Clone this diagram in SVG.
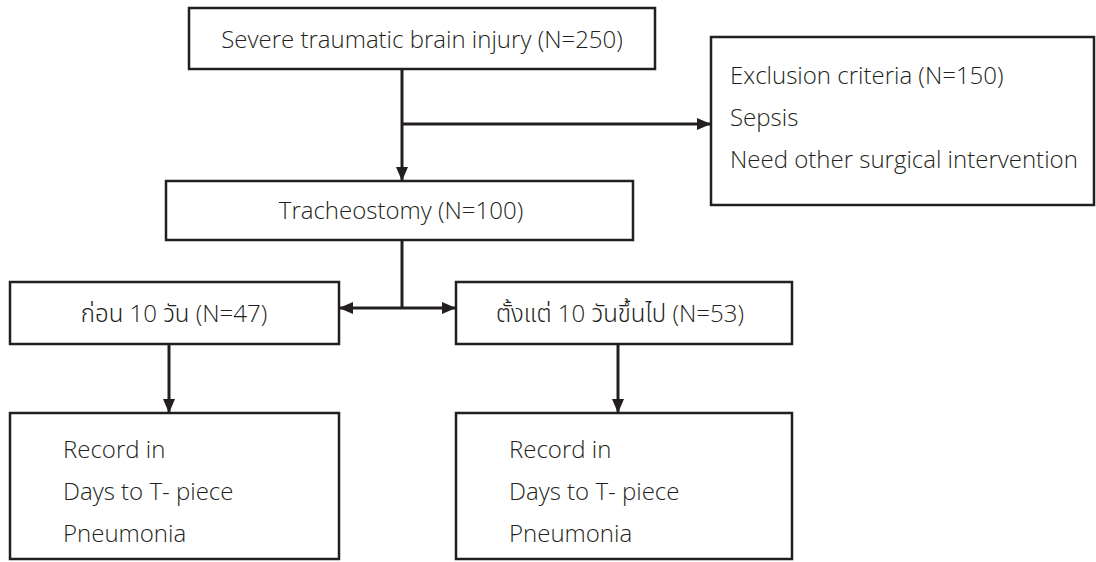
<svg xmlns="http://www.w3.org/2000/svg" width="1096" height="562" viewBox="0 0 1096 562">
<style>
.box{fill:#fff;stroke:#231f20;stroke-width:2.5}
.t{font-family:"Open Sans","Noto Sans Thai","Noto Sans","DejaVu Sans",sans-serif;font-size:24px;font-weight:300;fill:#231f20}
.c{text-anchor:middle}
.ln{stroke:#231f20;stroke-width:3;fill:none}
</style>
<defs>
<marker id="ah" viewBox="0 0 14 12" refX="14" refY="6" markerWidth="14" markerHeight="12" markerUnits="userSpaceOnUse" orient="auto-start-reverse">
<path d="M0,0 L14,6 L0,12 z" fill="#231f20"/>
</marker>
</defs>
<rect width="1096" height="562" fill="#fff"/>
<g id="connectors">
<line class="ln" x1="402" y1="69" x2="402" y2="181" marker-end="url(#ah)"/>
<line class="ln" x1="402" y1="124" x2="711" y2="124" marker-end="url(#ah)"/>
<line class="ln" x1="402" y1="240" x2="402" y2="308"/>
<line class="ln" x1="339" y1="308" x2="456" y2="308" marker-start="url(#ah)" marker-end="url(#ah)"/>
<line class="ln" x1="169" y1="344" x2="169" y2="413" marker-end="url(#ah)"/>
<line class="ln" x1="618" y1="344" x2="618" y2="413" marker-end="url(#ah)"/>
</g>
<g id="n-tbi">
<rect class="box" x="189" y="8" width="466" height="61"/>
<text class="t c" x="422" y="48">Severe traumatic brain injury (N=250)</text>
</g>
<g id="n-excl">
<rect class="box" x="711" y="37" width="383" height="168"/>
<text class="t" x="730" y="84">Exclusion criteria (N=150)</text>
<text class="t" x="730" y="126">Sepsis</text>
<text class="t" x="730" y="168">Need other surgical intervention</text>
</g>
<g id="n-trach">
<rect class="box" x="166" y="181" width="467" height="59"/>
<text class="t c" x="401" y="219">Tracheostomy (N=100)</text>
</g>
<g id="n-early">
<rect class="box" x="10" y="282" width="329" height="62"/>
<text class="t c" x="174" y="322">ก่อน 10 วัน (N=47)</text>
</g>
<g id="n-late">
<rect class="box" x="456" y="282" width="336" height="62"/>
<text class="t c" x="620" y="322">ตั้งแต่ 10 วันขึ้นไป (N=53)</text>
</g>
<g id="n-rec1">
<rect class="box" x="10" y="413" width="329" height="146"/>
<text class="t" x="63" y="458">Record in</text>
<text class="t" x="63" y="500">Days to T- piece</text>
<text class="t" x="63" y="542">Pneumonia</text>
</g>
<g id="n-rec2">
<rect class="box" x="456" y="413" width="336" height="146"/>
<text class="t" x="509" y="458">Record in</text>
<text class="t" x="509" y="500">Days to T- piece</text>
<text class="t" x="509" y="542">Pneumonia</text>
</g>
</svg>
